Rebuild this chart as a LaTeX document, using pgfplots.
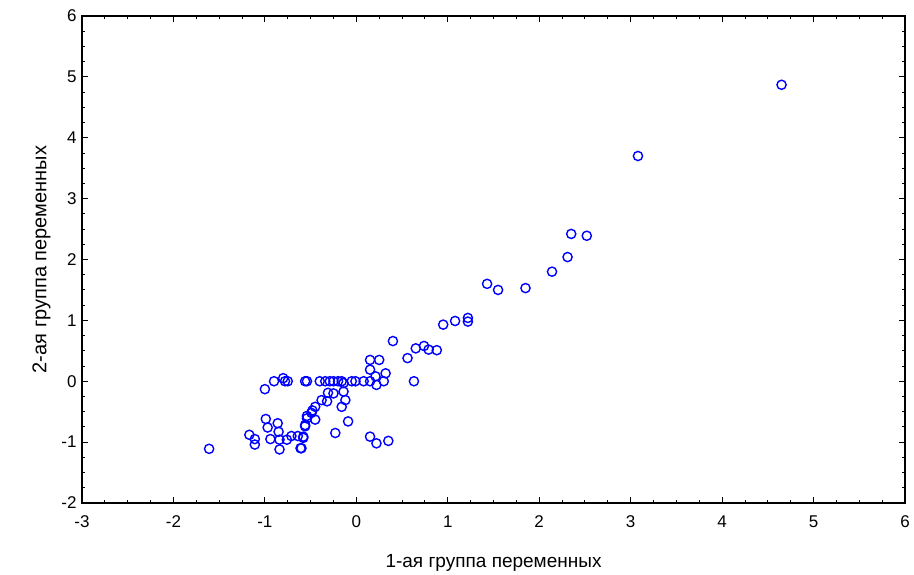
\documentclass[border=0pt]{standalone}
\usepackage{pgfplots}
\pgfplotsset{compat=1.18}
\usepackage{fontspec}
\setmainfont{Liberation Sans}
\begin{document}
\begin{tikzpicture}
\useasboundingbox (-82pt,-72pt) rectangle (832pt,503pt);
\begin{axis}[
  at={(0,0)}, anchor=south west,
  scale only axis, width=823pt, height=487pt,
  xmin=-3, xmax=6, ymin=-2, ymax=6,
  xtick={-3,...,6}, ytick={-2,...,6},
  minor tick num=3,
  tick align=inside,
  major tick length=6pt, minor tick length=3pt,
  tick style={black, line width=0.9pt},
  axis line style={black, line width=1.1pt},
  tick label style={font=\fontsize{17}{20}\selectfont},
  /pgf/number format/assume math mode=true,
  xticklabel style={yshift=-9pt},
  yticklabel style={xshift=-2pt},
  xlabel={1-ая группа переменных},
  ylabel={2-ая группа переменных},
  xlabel style={font=\fontsize{19}{22}\selectfont, yshift=-20pt},
  ylabel style={font=\fontsize{20}{23}\selectfont, yshift=4pt},
]
\addplot[only marks, mark=o, mark size=4.6pt, blue, mark options={line width=1.4pt}] coordinates {
(4.65,4.87) (3.08,3.70) (2.35,2.42) (2.52,2.39) (2.31,2.04) (2.14,1.80)
(1.43,1.60) (1.55,1.50) (1.85,1.53) (1.22,1.04) (1.22,0.98) (1.08,0.99)
(0.95,0.93) (0.40,0.66) (0.88,0.51) (0.74,0.58) (0.79,0.52) (0.65,0.54)
(0.56,0.38) (0.63,0.0)
(0.15,0.35) (0.25,0.35) (0.15,0.19) (0.32,0.13) (0.21,0.08) (0.22,-0.06)
(0.30,0.0) (0.15,0.0) (0.08,0.0) (-0.01,0.0) (-0.16,0.0) (-0.25,0.0)
(-0.29,0.0) (-0.34,0.0) (-0.40,0.0) (-0.56,0.0) (-0.54,0.0) (-0.75,0.0)
(-0.78,0.0) (-0.80,0.05) (-0.90,0.0) (-1.0,-0.13) (-0.20,0.0) (-0.05,0.0)
(-0.14,-0.03) (-0.14,-0.17) (-0.12,-0.31) (-0.16,-0.42) (-0.25,-0.20)
(-0.31,-0.19) (-0.32,-0.33) (-0.38,-0.31) (-0.45,-0.42) (-0.49,-0.52)
(-0.45,-0.63) (-0.54,-0.61) (-0.56,-0.72) (-0.58,-0.91) (-0.60,-1.10)
(-0.09,-0.66) (-0.23,-0.85) (0.15,-0.91) (0.22,-1.02) (0.35,-0.98)
(-1.61,-1.11) (-0.99,-0.62) (-0.86,-0.69) (-0.97,-0.76) (-0.85,-0.83)
(-0.94,-0.95) (-1.17,-0.88) (-1.11,-0.95) (-1.11,-1.04) (-0.84,-0.96)
(-0.84,-1.12) (-0.76,-0.96) (-0.71,-0.90) (-0.61,-1.10) (-0.58,-0.93)
(-0.64,-0.90) (-0.54,-0.57) (-0.56,-0.74) (-0.48,-0.48)
};
\end{axis}
\end{tikzpicture}
\end{document}
